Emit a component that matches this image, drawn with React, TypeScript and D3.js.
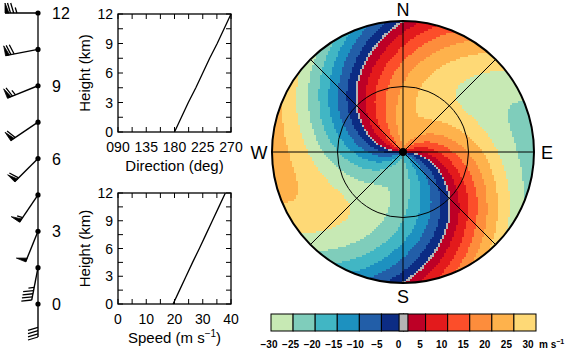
import React, { useMemo } from 'react';
import * as d3 from 'd3';

// Wind profile
const heights = [0, 1.5, 3, 4.5, 6, 7.5, 9, 10.5, 12];
const directions = [180, 191, 202, 214, 225, 236, 248, 259, 270];
const speeds = [19.5, 21.8, 24.1, 26.4, 28.8, 31.1, 33.4, 35.7, 38];

const heightTicks = [0, 3, 6, 9, 12];
const dirTicks = [90, 135, 180, 225, 270];
const dirTickLabels = ['090', '135', '180', '225', '270'];
const speedTicks = [0, 10, 20, 30, 40];

const colorBins = [-30, -25, -20, -15, -10, -5, 0, 5, 10, 15, 20, 25, 30];
const binColors = ['#c7e9b4', '#7fcdbb', '#41b6c4', '#1d91c0', '#225ea8', '#0c2c84',
  '#bd0026', '#e31a1c', '#fc4e2a', '#fd8d3c', '#feb24c', '#fed976'];
const zeroColor = '#b4b4b4';
const zeroHalfWidth = 0.55;
const nyquist = 30;
const compass = [
  { label: 'N', az: 0 }, { label: 'E', az: 90 }, { label: 'S', az: 180 }, { label: 'W', az: 270 },
];

const FONT = '"Liberation Sans", Arial, sans-serif';

function barbPath(bx: number, by: number, dir: number, spd: number) {
  const L = 33, len = 10, slant = 3, sp = 3.2, pw = 4;
  const rad = (dir * Math.PI) / 180;
  const ux = Math.sin(rad), uy = -Math.cos(rad);
  const bxv = -uy, byv = ux;
  const tx = bx + L * ux, ty = by + L * uy;
  let r = Math.round(spd / 2.5) * 2.5;
  const pennants = Math.floor(r / 25); r -= pennants * 25;
  const full = Math.floor(r / 5); r -= full * 5;
  const half = r >= 2.5;
  const staff = `M${bx},${by}L${tx},${ty}`;
  let lines = '';
  let tris = '';
  let pos = 0;
  const pt = (p: number) => [tx - ux * p, ty - uy * p];
  for (let i = 0; i < pennants; i++) {
    const [x0, y0] = pt(pos);
    const [x1, y1] = pt(pos + pw);
    tris += `M${x0},${y0}L${x0 + bxv * len},${y0 + byv * len}L${x1},${y1}Z`;
    pos += pw + 1.5;
  }
  for (let i = 0; i < full; i++) {
    const [x0, y0] = pt(pos);
    lines += `M${x0},${y0}L${x0 + bxv * len + ux * slant},${y0 + byv * len + uy * slant}`;
    pos += sp;
  }
  if (half) {
    if (pennants === 0 && full === 0) pos += sp;
    const [x0, y0] = pt(pos);
    lines += `M${x0},${y0}L${x0 + bxv * len * 0.55 + ux * slant * 0.55},${y0 + byv * len * 0.55 + uy * slant * 0.55}`;
  }
  return { staff, lines, tris };
}

function ProfilePanel(props: {
  top: number; bottom: number; left: number; right: number;
  domain: [number, number]; ticks: number[]; tickLabels: string[]; minorStep: number;
  values: number[]; xlabel: React.ReactNode;
}) {
  const { top, bottom, left, right, domain, ticks, tickLabels, minorStep, values, xlabel } = props;
  const x = d3.scaleLinear().domain(domain).range([left, right]);
  const y = d3.scaleLinear().domain([0, 12]).range([bottom, top]);
  const line = d3.line<number>().x((d) => x(values[heights.indexOf(d)])).y((d) => y(d));
  const minorX = d3.range(domain[0], domain[1] + 0.001, minorStep);
  const minorY = d3.range(0, 12.001, 1.5);
  const tl = 5;
  return (
    <g>
      <rect x={left} y={top} width={right - left} height={bottom - top} fill="none" stroke="#000" strokeWidth={1.3} />
      {minorX.map((v, i) => (
        <g key={'mx' + i}>
          <line x1={x(v)} x2={x(v)} y1={bottom} y2={bottom - tl} stroke="#000" strokeWidth={1} />
          <line x1={x(v)} x2={x(v)} y1={top} y2={top + tl} stroke="#000" strokeWidth={1} />
        </g>
      ))}
      {minorY.map((v, i) => (
        <g key={'my' + i}>
          <line x1={left} x2={left + tl} y1={y(v)} y2={y(v)} stroke="#000" strokeWidth={1} />
          <line x1={right} x2={right - tl} y1={y(v)} y2={y(v)} stroke="#000" strokeWidth={1} />
        </g>
      ))}
      {heightTicks.map((h) => (
        <text key={'yl' + h} x={left - 5} y={y(h) + 5} fontSize={14} textAnchor="end" fontFamily={FONT}>{h}</text>
      ))}
      {ticks.map((t, i) => (
        <text key={'xl' + t} x={x(t)} y={bottom + 20} fontSize={14} textAnchor="middle" fontFamily={FONT}>{tickLabels[i]}</text>
      ))}
      <text transform={`translate(${left - 28},${(top + bottom) / 2}) rotate(-90)`} fontSize={15} textAnchor="middle" fontFamily={FONT}>Height (km)</text>
      <text x={(left + right) / 2} y={bottom + 39} fontSize={15} textAnchor="middle" fontFamily={FONT}>{xlabel}</text>
      <path d={line(heights) || ''} fill="none" stroke="#000" strokeWidth={1.3} />
    </g>
  );
}

export default function App() {
  const cx = 403, cy = 152, R = 131;
  const field = useMemo(() => {
    const dirAt = d3.scaleLinear().domain(heights).range(directions);
    const spdAt = d3.scaleLinear().domain(heights).range(speeds);
    const hAt = d3.scaleLinear().domain([0, R]).range([0, 12]).clamp(true);
    const binScale = d3.scaleThreshold<number, number>().domain(colorBins.slice(1, -1)).range(d3.range(12));
    const c = 2;
    const n = Math.ceil((2 * R) / c) + 2;
    const paths: string[] = Array(13).fill('');
    const x0 = cx - R - c, y0 = cy - R - c;
    for (let j = 0; j < n; j++) {
      let runStart = -1, runIdx = -1;
      const py = y0 + j * c;
      const flush = (endI: number) => {
        if (runIdx >= 0) {
          paths[runIdx] += `M${x0 + runStart * c},${py}h${(endI - runStart) * c}v${c}h${-(endI - runStart) * c}Z`;
        }
      };
      for (let i = 0; i <= n; i++) {
        let idx = -1;
        if (i < n) {
          const px = x0 + i * c;
          const dx = px + c / 2 - cx, dy = py + c / 2 - cy;
          const r = Math.sqrt(dx * dx + dy * dy);
          if (r <= R + 2) {
            const h = hAt(r);
            const D = (dirAt(h) * Math.PI) / 180;
            const S = spdAt(h);
            const th = Math.atan2(dx, -dy);
            const v = -S * Math.cos(th - D);
            const vf = ((((v + nyquist) % (2 * nyquist)) + 2 * nyquist) % (2 * nyquist)) - nyquist;
            idx = Math.abs(vf) < zeroHalfWidth ? 12 : binScale(vf);
          }
        }
        if (idx !== runIdx) {
          flush(i);
          runStart = i; runIdx = idx;
        }
      }
    }
    return paths;
  }, []);

  // barb column
  const yb = d3.scaleLinear().domain([0, 12]).range([304, 13]);
  const xb = 38;
  const barbs = heights.map((h, i) => ({ h, ...barbPath(xb, yb(h), directions[i], speeds[i]) }));

  const cb = d3.scaleLinear().domain([-30, 30]).range([271, 536]);
  const cbLabel = d3.scaleLinear().domain([-30, 30]).range([269, 528]);
  const spokes = [0, 45, 90, 135];

  return (
    <svg width={576} height={349} style={{ position: 'absolute', left: 0, top: 0, background: '#fff' }}>
      <rect width={576} height={349} fill="#fff" />
      {/* barbs */}
      <line x1={xb} x2={xb} y1={yb(12)} y2={yb(0)} stroke="#000" strokeWidth={1.3} />
      {barbs.map((b) => (
        <g key={'b' + b.h}>
          <path d={b.staff} stroke="#000" strokeWidth={1.4} fill="none" />
          <path d={b.lines} stroke="#000" strokeWidth={1.3} fill="none" />
          <path d={b.tris} stroke="#000" strokeWidth={0.8} fill="#000" />
          <circle cx={xb} cy={yb(b.h)} r={2.6} fill="#000" />
        </g>
      ))}
      {heightTicks.map((h) => (
        <text key={'bl' + h} x={52} y={yb(h) + 6} fontSize={16} fontFamily={FONT}>{h}</text>
      ))}

      <ProfilePanel top={14} bottom={132} left={118} right={231} domain={[90, 270]} ticks={dirTicks}
        tickLabels={dirTickLabels} minorStep={22.5} values={directions} xlabel="Direction (deg)" />
      <ProfilePanel top={193} bottom={304} left={118} right={231} domain={[0, 40]} ticks={speedTicks}
        tickLabels={speedTicks.map(String)} minorStep={5} values={speeds}
        xlabel={<>Speed (m s<tspan dy={-6} fontSize={10}>−1</tspan><tspan dy={6}>)</tspan></>} />

      {/* PPI */}
      <defs>
        <clipPath id="ppiClip"><circle cx={cx} cy={cy} r={R} /></clipPath>
      </defs>
      <g clipPath="url(#ppiClip)">
        {field.map((d, i) => (
          <path key={'f' + i} d={d} fill={i === 12 ? zeroColor : binColors[i]} />
        ))}
      </g>
      {spokes.map((a) => {
        const rad = (a * Math.PI) / 180;
        return <line key={'s' + a} x1={cx - R * Math.sin(rad)} y1={cy + R * Math.cos(rad)}
          x2={cx + R * Math.sin(rad)} y2={cy - R * Math.cos(rad)} stroke="#000" strokeWidth={1} />;
      })}
      <circle cx={cx} cy={cy} r={R / 2} fill="none" stroke="#000" strokeWidth={1} />
      <circle cx={cx} cy={cy} r={R} fill="none" stroke="#000" strokeWidth={2} />
      <circle cx={cx} cy={cy} r={4} fill="#000" />
      {compass.map((c) => {
        const rad = (c.az * Math.PI) / 180;
        const off = R + 13;
        const dyAdj = c.label === 'N' ? 8 : 7;
        return <text key={c.label} x={cx + off * Math.sin(rad)} y={cy - off * Math.cos(rad) + dyAdj}
          fontSize={18} textAnchor="middle" fontFamily={FONT}>{c.label}</text>;
      })}

      {/* colorbar */}
      {binColors.map((col, i) => (
        <rect key={'cb' + i} x={cb(colorBins[i])} y={314} width={cb(colorBins[i + 1]) - cb(colorBins[i])} height={17}
          fill={col} stroke="#000" strokeWidth={1} />
      ))}
      <rect x={cb(-1)} y={314} width={cb(1) - cb(-1)} height={17} fill={zeroColor} stroke="#000" strokeWidth={1} />
      {colorBins.map((v) => (
        <text key={'cl' + v} x={cbLabel(v)} y={348} fontSize={10} fontWeight="bold" textAnchor="middle" fontFamily={FONT}>
          {v < 0 ? '−' + Math.abs(v) : String(v)}
        </text>
      ))}
      <text x={539} y={348} fontSize={10} fontWeight="bold" fontFamily={FONT}>m s<tspan dy={-4} fontSize={7}>−1</tspan></text>
    </svg>
  );
}
